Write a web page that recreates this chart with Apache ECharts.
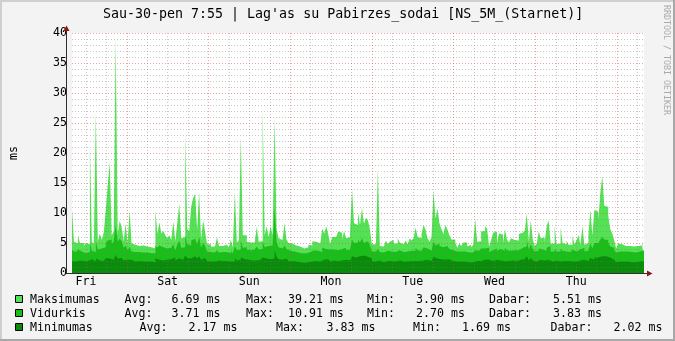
<!DOCTYPE html>
<html>
<head>
<meta charset="utf-8">
<script src="https://cdn.jsdelivr.net/npm/echarts@6/dist/echarts.min.js"></script>
<style>
html,body{margin:0;padding:0;background:#F3F3F3;}
#c{width:675px;height:341px;}
</style>
</head>
<body>
<div id="c"></div>
<script>
// ---------- data ----------
const titleText = "Sau-30-pen 7:55 | Lag'as su Pabirzes_sodai [NS_5M_(Starnet)]";
const dayLabels = ['Fri', 'Sat', 'Sun', 'Mon', 'Tue', 'Wed', 'Thu'];
const spanHours = 168;              // one week shown
const startClock = 7 + 55 / 60;     // graph starts Friday 7:55
const yMax = 40;
const yStep = 5;

const seriesNames = ['Maksimumas', 'Vidurkis', 'Minimumas'];
const statAvg  = ['6.69', '3.71', '2.17'];
const statMax  = ['39.21', '10.91', '3.83'];
const statMin  = ['3.90', '2.70', '1.69'];
const statLast = ['5.51', '3.83', '2.02'];

const maxVals = [
 10.6, 5.2, 4.9, 6.3, 5.0, 5.0, 4.6, 5.0, 4.8, 21.5, 5.2, 4.8,
 26.7, 5.2, 6.6, 5.5, 6.8, 10.4, 14.7, 18.4, 6.2, 7.0, 39.2, 6.5,
 8.7, 7.7, 5.3, 8.2, 5.0, 10.4, 4.9, 4.7, 4.5, 4.5, 4.4, 4.6,
 4.3, 4.4, 4.3, 4.3, 4.5, 4.1, 10.4, 6.6, 8.4, 6.6, 7.0, 6.3,
 5.8, 6.3, 5.5, 8.6, 5.3, 8.3, 11.6, 5.8, 6.0, 23.6, 7.4, 6.9,
 11.0, 12.5, 13.2, 7.2, 13.4, 5.5, 8.8, 6.9, 4.8, 4.8, 4.4, 4.4,
 4.4, 5.9, 4.5, 4.5, 4.4, 4.7, 4.7, 4.3, 5.5, 4.3, 13.4, 5.0,
 5.5, 22.6, 6.3, 6.3, 5.2, 5.1, 5.0, 5.1, 5.0, 7.7, 5.2, 5.3,
 27.7, 6.3, 7.8, 6.0, 7.8, 6.3, 25.7, 7.4, 5.8, 5.5, 5.2, 8.3,
 5.6, 5.0, 4.9, 4.8, 4.6, 4.4, 4.4, 4.2, 4.1, 4.2, 4.3, 4.7,
 4.6, 5.3, 5.2, 5.1, 4.9, 4.7, 7.4, 6.6, 7.8, 6.5, 4.8, 6.0,
 6.0, 5.8, 6.9, 6.7, 5.5, 7.0, 5.8, 6.0, 6.9, 14.0, 8.3, 8.0,
 10.1, 8.0, 10.8, 8.2, 9.2, 8.8, 7.3, 4.8, 4.8, 4.7, 17.2, 4.5,
 4.4, 4.4, 5.4, 4.8, 5.2, 5.5, 4.9, 4.9, 5.8, 5.1, 4.8, 4.5,
 5.4, 4.8, 5.8, 5.4, 5.8, 7.6, 6.0, 5.8, 6.5, 8.0, 7.2, 5.8,
 5.2, 6.0, 13.8, 9.1, 10.7, 8.3, 7.3, 6.5, 8.0, 7.3, 6.3, 5.6,
 5.6, 5.1, 4.2, 4.9, 4.5, 5.1, 5.1, 4.4, 4.7, 4.3, 4.7, 9.0,
 5.2, 5.3, 6.9, 7.0, 7.8, 7.4, 4.4, 5.5, 6.7, 6.9, 5.0, 6.6,
 6.4, 5.0, 7.3, 5.6, 5.1, 5.8, 5.5, 5.5, 5.4, 6.5, 6.7, 6.9,
 7.1, 9.9, 5.2, 8.7, 5.6, 4.5, 4.9, 6.9, 5.8, 5.9, 5.1, 7.8,
 8.8, 4.9, 4.9, 7.8, 4.8, 4.9, 7.6, 5.0, 4.8, 5.4, 4.7, 4.7,
 6.2, 4.8, 5.4, 6.3, 4.7, 7.8, 4.7, 5.0, 6.3, 10.6, 6.3, 10.5,
 10.2, 8.8, 13.3, 16.2, 11.2, 11.0, 9.6, 7.3, 6.6, 5.5, 4.1, 4.9,
 4.8, 4.8, 4.5, 4.7, 4.5, 4.7, 4.4, 4.4, 4.5, 4.7, 4.6, 5.5
];

const avgVals = [
 3.8, 3.5, 3.4, 3.9, 3.6, 3.5, 3.3, 3.6, 3.5, 5.0, 3.7, 3.5,
 5.2, 3.9, 4.1, 3.9, 4.3, 5.0, 5.4, 5.6, 4.8, 5.3, 8.0, 5.2,
 5.7, 5.3, 4.2, 4.6, 3.8, 4.4, 3.6, 3.5, 3.4, 3.5, 3.3, 3.4,
 3.3, 3.4, 3.3, 3.3, 3.4, 3.3, 4.6, 4.2, 4.6, 4.3, 4.4, 4.1,
 3.9, 4.2, 3.9, 4.8, 3.8, 4.7, 5.4, 4.2, 4.3, 6.3, 4.8, 4.6,
 5.4, 5.7, 5.5, 4.8, 6.0, 4.2, 5.0, 4.5, 3.6, 3.5, 3.4, 3.4,
 3.4, 3.8, 3.4, 3.5, 3.4, 3.5, 3.5, 3.3, 3.7, 3.3, 4.5, 3.8,
 3.9, 5.4, 4.2, 4.3, 3.9, 3.8, 3.8, 3.9, 3.8, 4.4, 3.9, 4.0,
 5.3, 4.3, 4.5, 4.2, 4.6, 4.4, 10.9, 5.2, 4.3, 4.1, 3.9, 4.6,
 4.0, 3.7, 3.6, 3.6, 3.5, 3.4, 3.4, 3.3, 3.2, 3.3, 3.3, 3.5,
 3.5, 3.8, 3.7, 3.7, 3.6, 3.5, 4.2, 4.0, 4.3, 3.9, 3.6, 3.9,
 3.9, 3.8, 4.1, 4.0, 3.7, 4.2, 3.8, 3.9, 4.2, 5.6, 5.0, 5.1,
 5.6, 5.1, 5.8, 5.0, 5.3, 5.1, 4.6, 3.6, 3.6, 3.5, 4.0, 3.5,
 3.4, 3.4, 3.7, 3.5, 3.6, 3.7, 3.5, 3.5, 3.8, 3.6, 3.5, 3.4,
 3.6, 3.5, 3.7, 3.6, 3.7, 4.2, 3.8, 3.7, 3.9, 4.3, 4.1, 3.8,
 3.7, 3.9, 5.2, 4.6, 4.9, 4.5, 4.3, 4.1, 4.5, 4.3, 4.0, 3.8,
 3.8, 3.6, 3.4, 3.6, 3.5, 3.6, 3.6, 3.4, 3.5, 3.4, 3.5, 3.8,
 3.7, 3.7, 4.1, 4.1, 4.3, 4.2, 3.5, 3.8, 4.0, 4.1, 3.7, 4.0,
 3.9, 3.7, 4.2, 3.8, 3.7, 3.9, 3.8, 3.8, 3.8, 4.1, 4.2, 4.3,
 4.4, 5.5, 3.9, 4.8, 4.0, 3.6, 3.7, 4.1, 3.9, 3.9, 3.7, 4.2,
 4.5, 3.6, 3.6, 4.0, 3.6, 3.6, 4.1, 3.7, 3.6, 3.8, 3.5, 3.5,
 3.9, 3.6, 3.7, 3.9, 3.6, 4.2, 3.6, 3.7, 4.0, 4.9, 4.1, 5.0,
 5.0, 4.7, 5.6, 6.0, 5.6, 5.5, 5.1, 4.4, 4.2, 3.8, 3.4, 3.6,
 3.6, 3.6, 3.5, 3.6, 3.5, 3.5, 3.4, 3.4, 3.5, 3.6, 3.5, 3.8
];

const minVals = [
 2.0, 1.9, 2.0, 2.1, 1.9, 2.0, 1.9, 2.0, 2.1, 2.3, 2.0, 1.9,
 2.4, 2.1, 2.2, 2.0, 2.3, 2.5, 2.4, 2.6, 2.2, 2.3, 3.0, 2.4,
 2.5, 2.3, 2.1, 2.2, 2.0, 2.2, 2.0, 1.9, 1.9, 2.0, 1.8, 1.9,
 1.9, 1.9, 1.8, 1.9, 1.9, 1.8, 2.4, 2.2, 2.3, 2.1, 2.3, 2.2,
 2.1, 2.3, 2.2, 2.6, 2.1, 2.4, 2.6, 2.2, 2.3, 2.9, 2.5, 2.4,
 2.7, 2.8, 2.6, 2.4, 2.8, 2.2, 2.5, 2.3, 2.0, 1.9, 1.9, 1.9,
 1.9, 2.1, 1.9, 2.0, 1.9, 2.0, 2.0, 1.9, 2.1, 1.9, 2.5, 2.1,
 2.2, 2.6, 2.3, 2.4, 2.2, 2.1, 2.1, 2.2, 2.1, 2.4, 2.2, 2.2,
 2.6, 2.4, 2.5, 2.3, 2.5, 2.4, 3.8, 2.7, 2.3, 2.2, 2.1, 2.4,
 2.2, 2.0, 2.0, 1.9, 1.9, 1.8, 1.8, 1.8, 1.7, 1.8, 1.8, 1.9,
 1.9, 2.0, 2.0, 2.0, 1.9, 1.9, 2.2, 2.1, 2.3, 2.1, 1.9, 2.1,
 2.1, 2.0, 2.2, 2.1, 2.0, 2.2, 2.0, 2.1, 2.2, 2.8, 2.6, 2.6,
 2.8, 2.6, 2.9, 2.6, 2.7, 2.6, 2.4, 2.0, 1.9, 1.9, 2.1, 1.9,
 1.8, 1.9, 2.0, 1.9, 2.0, 2.0, 1.9, 1.9, 2.1, 2.0, 1.9, 1.8,
 1.9, 1.9, 2.0, 1.9, 2.0, 2.2, 2.0, 2.0, 2.1, 2.3, 2.2, 2.0,
 2.0, 2.1, 2.7, 2.4, 2.5, 2.3, 2.3, 2.2, 2.4, 2.3, 2.1, 2.0,
 2.0, 1.9, 1.8, 1.9, 1.9, 1.9, 1.9, 1.8, 1.9, 1.8, 1.9, 2.0,
 2.0, 2.0, 2.2, 2.2, 2.3, 2.2, 1.9, 2.0, 2.1, 2.2, 2.0, 2.1,
 2.1, 2.0, 2.2, 2.0, 2.0, 2.1, 2.0, 2.0, 2.0, 2.2, 2.2, 2.3,
 2.3, 2.8, 2.1, 2.5, 2.1, 1.9, 2.0, 2.2, 2.1, 2.1, 2.0, 2.2,
 2.4, 1.9, 1.9, 2.1, 1.9, 1.9, 2.2, 2.0, 1.9, 2.0, 1.9, 1.9,
 2.1, 1.9, 2.0, 2.1, 1.9, 2.2, 1.9, 2.0, 2.1, 2.5, 2.2, 2.6,
 2.6, 2.4, 2.8, 3.0, 2.8, 2.8, 2.6, 2.3, 2.2, 2.0, 1.8, 1.9,
 1.9, 1.9, 1.9, 1.9, 1.9, 1.8, 1.8, 1.8, 1.9, 1.9, 1.9, 2.0
];

// ---------- helpers ----------
const COLORS = ['#54E154', '#19BE19', '#0B8B0B'];
const MONO = "'DejaVu Sans Mono', 'Liberation Mono', monospace";
const stepH = spanHours / maxVals.length;
function toSteps(arr) {
  const pts = arr.map((v, i) => [i * stepH, v]);
  pts.push([spanHours, arr[arr.length - 1]]);
  return pts;
}
// grid lines every 6h starting at the first 12:00, midnights in red
const firstNoon = 12 - startClock;
const minorX = [], majorX = [], noonX = [];
for (let h = firstNoon, k = 0; h < spanHours; h += 6, k++) {
  const clock = (12 + 6 * k) % 24;
  if (clock === 0) majorX.push(h); else minorX.push(h);
  if (clock === 12) noonX.push(h);
}

const chart = echarts.init(document.getElementById('c'), null, {renderer: 'canvas'});

function mkSeries(name, vals, color) {
  return {
    type: 'line', name: name, data: toSteps(vals), step: 'end',
    showSymbol: false, symbol: 'none', silent: true,
    lineStyle: {width: 0, color: color},
    itemStyle: {color: color},
    areaStyle: {color: color, opacity: 1},
    z: 2
  };
}

const minorGrid = 'rgba(125,125,125,0.42)';
const majorGrid = 'rgba(222,70,70,0.5)';

// legend layout
const rowY = [299, 313, 327];
const colX = [
  [30, 124.5, 171.5, 246, 288, 367, 416, 489, 553],
  [30, 124.5, 171.5, 246, 288, 367, 416, 489, 553],
  [30, 139.5, 188.5, 276, 326.5, 413, 462, 550.5, 613.5]
];
const graphics = [];
// frame shading
graphics.push({type: 'rect', shape: {x: 0, y: 0, width: 675, height: 2}, style: {fill: '#CFCFCF'}, z: 30});
graphics.push({type: 'rect', shape: {x: 0, y: 0, width: 2, height: 341}, style: {fill: '#CFCFCF'}, z: 30});
graphics.push({type: 'rect', shape: {x: 0, y: 339, width: 675, height: 2}, style: {fill: '#A8A8A8'}, z: 31});
graphics.push({type: 'rect', shape: {x: 673, y: 0, width: 2, height: 341}, style: {fill: '#A8A8A8'}, z: 31});
// title
graphics.push({type: 'text', x: 103, y: 15, z: 30, style: {text: titleText, font: '13.3px ' + MONO, fill: '#000', textAlign: 'left', textVerticalAlign: 'middle'}});
// watermark
graphics.push({type: 'text', x: 666.5, y: 60, rotation: -Math.PI / 2, z: 30, style: {text: 'RRDTOOL / TOBI OETIKER', font: '8.3px ' + MONO, fill: '#AAAAAA', textAlign: 'center', textVerticalAlign: 'middle'}});
// axes + arrows
graphics.push({type: 'line', z: 25, shape: {x1: 66.5, y1: 274, x2: 66.5, y2: 29}, style: {stroke: '#303030', lineWidth: 1}});
graphics.push({type: 'line', z: 25, shape: {x1: 66, y1: 273.5, x2: 648, y2: 273.5}, style: {stroke: '#303030', lineWidth: 1}});
graphics.push({type: 'polygon', z: 26, shape: {points: [[63.5, 31], [69.5, 31], [66.5, 25.5]]}, style: {fill: '#8C1515'}});
graphics.push({type: 'polygon', z: 26, shape: {points: [[647, 270.5], [647, 276.5], [652.5, 273.5]]}, style: {fill: '#8C1515'}});
// legend
for (let r = 0; r < 3; r++) {
  graphics.push({type: 'rect', z: 30, shape: {x: 15.5, y: rowY[r] - 3.5, width: 7, height: 7}, style: {fill: COLORS[r], stroke: '#000', lineWidth: 1}});
  const parts = [seriesNames[r], 'Avg:', statAvg[r] + ' ms', 'Max:', statMax[r] + ' ms', 'Min:', statMin[r] + ' ms', 'Dabar:', statLast[r] + ' ms'];
  parts.forEach((t, j) => {
    graphics.push({type: 'text', z: 30, x: colX[r][j], y: rowY[r] + 0.5, style: {text: t, font: '11.6px ' + MONO, fill: '#000', textAlign: 'left', textVerticalAlign: 'middle'}});
  });
}

chart.setOption({
  animation: false,
  backgroundColor: '#F3F3F3',
  grid: {left: 66, top: 33, width: 578, height: 240, show: true, backgroundColor: '#FFFFFF', borderWidth: 0},
  xAxis: [{
    type: 'value', min: 0, max: spanHours, z: 10,
    axisLine: {show: false},
    axisTick: {show: false, customValues: minorX},
    axisLabel: {
      show: true, customValues: noonX, margin: 3, color: '#000',
      fontFamily: MONO, fontSize: 11.6,
      formatter: function (v) { return dayLabels[Math.round((v - firstNoon) / 24)] || ''; }
    },
    splitLine: {show: true, lineStyle: {color: minorGrid, width: 1, type: [1, 2]}}
  }, {
    type: 'value', min: 0, max: spanHours, z: 11, position: 'bottom',
    axisLine: {show: false},
    axisTick: {show: false, customValues: majorX},
    axisLabel: {show: false},
    splitLine: {show: true, lineStyle: {color: majorGrid, width: 1, type: [1, 2]}}
  }],
  yAxis: {
    type: 'value', min: 0, max: yMax, interval: yStep, z: 10,
    name: 'ms', nameLocation: 'middle', nameGap: 52, nameRotate: 90,
    nameTextStyle: {fontFamily: MONO, fontSize: 11.6, color: '#000'},
    axisLine: {show: false}, axisTick: {show: false},
    axisLabel: {margin: 5, color: '#000', fontFamily: MONO, fontSize: 11.6},
    splitLine: {show: true, lineStyle: {color: majorGrid, width: 1, type: [1, 2]}},
    minorTick: {show: false, splitNumber: 5},
    minorSplitLine: {show: true, lineStyle: {color: minorGrid, width: 1, type: [1, 2]}}
  },
  series: [
    mkSeries(seriesNames[0], maxVals, COLORS[0]),
    mkSeries(seriesNames[1], avgVals, COLORS[1]),
    mkSeries(seriesNames[2], minVals, COLORS[2])
  ],
  graphic: graphics
});
</script>
</body>
</html>
